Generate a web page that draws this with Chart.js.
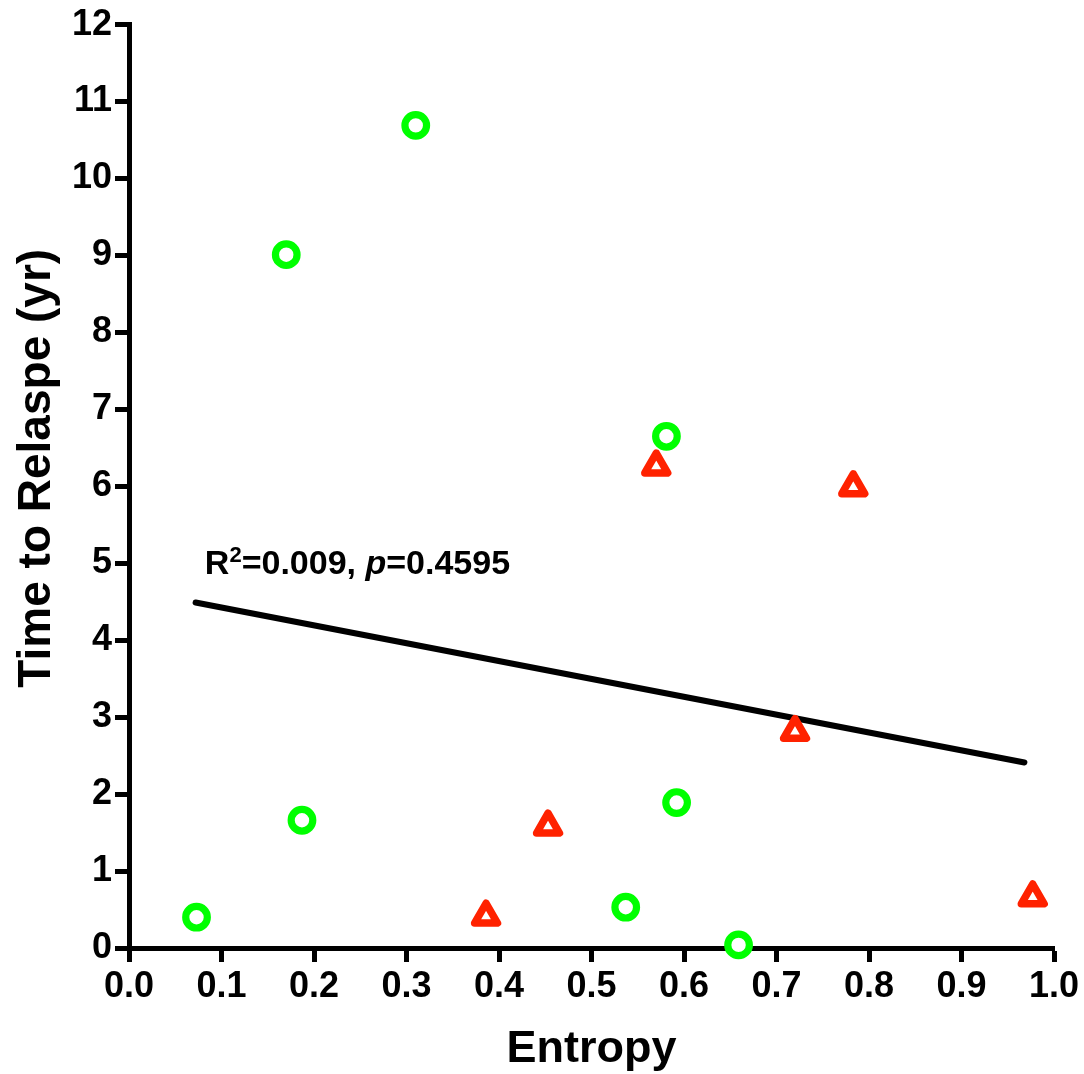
<!DOCTYPE html>
<html>
<head>
<meta charset="utf-8">
<title>Entropy vs Time to Relapse</title>
<script src="https://cdn.jsdelivr.net/npm/chart.js@4"></script>
<style>
    html, body { margin: 0; padding: 0; background: #fff; }
    #wrap { width: 1084px; height: 1074px; position: relative; }
</style>
</head>
<body>
<div id="wrap"><canvas id="relapseChart"></canvas></div>
<script>
// Entropy (x) and time to relapse in years (y)
const circleEntropy = [0.073, 0.170, 0.187, 0.310, 0.537, 0.581, 0.592, 0.659];
const circleRelapse = [0.40, 9.01, 1.66, 10.69, 0.53, 6.65, 1.89, 0.04];

const triangleEntropy = [0.386, 0.453, 0.570, 0.720, 0.783, 0.977];
const triangleRelapse = [0.41, 1.58, 6.26, 2.81, 5.99, 0.66];

// linear fit, drawn between its end points
const fitEntropy = [0.072, 0.968];
const fitRelapse = [4.49, 2.41];

const fitLabel = { r2: '0.009', p: '0.4595', x: 0.082, y: 4.86 };

const yTitle = 'Time to Relaspe (yr)';

const FONT = '"Liberation Sans", Arial, Helvetica, sans-serif';

function toPoints(xs, ys) {
    return xs.map((x, i) => ({ x: x, y: ys[i] }));
}

// triangles have rounded corners
const roundJoins = {
    id: 'roundJoins',
    beforeDatasetsDraw(chart) {
        chart.ctx.lineJoin = 'round';
    }
};

// R² / p caption above the fit line
const fitCaption = {
    id: 'fitCaption',
    afterDatasetsDraw(chart) {
        const ctx = chart.ctx;
        const xs = chart.scales.x, ys = chart.scales.y;
        let x = xs.getPixelForValue(fitLabel.x);
        const y = ys.getPixelForValue(fitLabel.y);
        const size = 34;

        ctx.save();
        ctx.fillStyle = '#000';
        ctx.textBaseline = 'alphabetic';
        ctx.textAlign = 'left';

        const part = (text, font, dy) => {
            ctx.font = font;
            ctx.fillText(text, x, y + (dy || 0));
            x += ctx.measureText(text).width;
        };
        part('R', `bold ${size}px ${FONT}`);
        part('2', `bold ${Math.round(size * 0.66)}px ${FONT}`, -size * 0.36);
        part('=' + fitLabel.r2 + ', ', `bold ${size}px ${FONT}`);
        part('p', `italic bold ${size}px ${FONT}`);
        part('=' + fitLabel.p, `bold ${size}px ${FONT}`);
        ctx.restore();
    }
};

// vertical axis title, sits a little above the middle of the axis
const yAxisTitle = {
    id: 'yAxisTitle',
    afterDraw(chart) {
        const ctx = chart.ctx;
        const area = chart.chartArea;
        ctx.save();
        ctx.translate(37, (area.top + area.bottom) / 2 - 18);
        ctx.rotate(-Math.PI / 2);
        ctx.font = `bold 46px ${FONT}`;
        ctx.fillStyle = '#000';
        ctx.textAlign = 'center';
        ctx.textBaseline = 'middle';
        ctx.fillText(yTitle, 0, 0);
        ctx.restore();
    }
};

const tickFont = { family: FONT, size: 36, weight: 'bold' };
const titleFont = { family: FONT, size: 45, weight: 'bold', lineHeight: 1 };

new Chart(document.getElementById('relapseChart'), {
    type: 'scatter',
    data: {
        datasets: [
            {
                label: 'Fit',
                type: 'line',
                data: toPoints(fitEntropy, fitRelapse),
                borderColor: '#000',
                borderWidth: 6,
                borderCapStyle: 'round',
                pointRadius: 0,
                fill: false,
                clip: false,
                order: 3
            },
            {
                label: 'Group A',
                data: toPoints(circleEntropy, circleRelapse),
                pointStyle: 'circle',
                pointRadius: 10.8,
                pointBorderWidth: 7.2,
                borderColor: '#00ff00',
                backgroundColor: '#ffffff',
                clip: false,
                order: 1
            },
            {
                label: 'Group B',
                data: toPoints(triangleEntropy, triangleRelapse),
                pointStyle: 'triangle',
                pointRadius: 13.2,
                pointBorderWidth: 7.5,
                borderColor: '#ff2200',
                backgroundColor: '#ffffff',
                clip: false,
                order: 2
            }
        ]
    },
    options: {
        responsive: true,
        maintainAspectRatio: false,
        animation: false,
        layout: { padding: { top: 22, right: 30, left: 0, bottom: 0 } },
        plugins: {
            legend: { display: false },
            tooltip: { enabled: false }
        },
        scales: {
            x: {
                type: 'linear',
                min: 0,
                max: 1,
                ticks: {
                    stepSize: 0.1,
                    color: '#000',
                    font: tickFont,
                    padding: 3,
                    maxRotation: 0,
                    callback: v => v.toFixed(1)
                },
                grid: { drawOnChartArea: false, drawTicks: true, tickLength: 14, tickWidth: 5, tickColor: '#000' },
                border: { color: '#000', width: 5 },
                title: { display: true, text: 'Entropy', color: '#000', font: titleFont, padding: { top: 0, bottom: 2 } },
                afterFit(scale) { scale.height = 126; }
            },
            y: {
                type: 'linear',
                min: 0,
                max: 12,
                ticks: {
                    stepSize: 1,
                    color: '#000',
                    font: tickFont,
                    padding: 3
                },
                grid: { drawOnChartArea: false, drawTicks: true, tickLength: 14, tickWidth: 5, tickColor: '#000' },
                border: { color: '#000', width: 5 },
                afterFit(scale) { scale.width = 129; }
            }
        }
    },
    plugins: [roundJoins, fitCaption, yAxisTitle]
});
</script>
</body>
</html>
